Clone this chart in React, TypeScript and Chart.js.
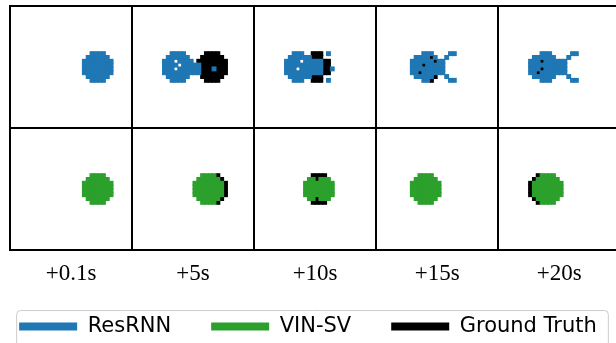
import React, { useEffect, useRef } from 'react';
import { Chart, registerables } from 'chart.js';

Chart.register(...registerables);

// ---------- data ----------
const TIME_LABELS = ['+0.1s', '+5s', '+10s', '+15s', '+20s'];
const SERIES_NAMES = ['ResRNN', 'VIN-SV', 'Ground Truth'];
const SERIES_COLORS = ['#1f77b4', '#2ca02c', '#000000'];
const FRAME_SIZE = 32; // each frame is a 32x32 pixel image
const X_VISIBLE_MAX = 158.9; // last frame is cropped on the right

type Run = [number, number, number]; // [row, firstCol, lastCol]

// ResRNN predictions (top row)
const RESRNN_0_1S: Run[] = [[12, 21, 24], [13, 20, 25], [14, 19, 26], [15, 19, 26], [16, 19, 26], [17, 19, 26], [18, 20, 25], [19, 21, 24]];
const RESRNN_5S: Run[] = [[12, 10, 13], [13, 9, 14], [14, 8, 10], [14, 12, 15], [15, 8, 11], [15, 13, 17], [16, 8, 10], [16, 12, 17], [16, 21, 21], [17, 8, 17], [18, 9, 14], [19, 10, 13]];
const RESRNN_10S: Run[] = [[12, 10, 12], [12, 19, 19], [13, 9, 14], [14, 8, 11], [14, 13, 17], [15, 8, 17], [16, 8, 10], [16, 12, 17], [16, 20, 20], [17, 8, 17], [18, 9, 14], [19, 10, 12], [19, 19, 19]];
const RESRNN_15S: Run[] = [[12, 12, 14], [12, 19, 20], [13, 10, 13], [13, 15, 15], [13, 18, 18], [14, 9, 14], [14, 16, 17], [15, 9, 11], [15, 13, 17], [16, 9, 17], [17, 9, 10], [17, 12, 17], [18, 10, 14], [18, 18, 18], [19, 12, 13], [19, 19, 20]];
const RESRNN_20S: Run[] = [[12, 11, 13], [12, 19, 20], [13, 9, 14], [13, 18, 18], [14, 8, 10], [14, 12, 17], [15, 8, 17], [16, 8, 10], [16, 12, 17], [17, 8, 9], [17, 11, 17], [18, 9, 14], [18, 18, 18], [19, 11, 13], [19, 19, 20]];

// Ground truth visible next to the ResRNN predictions (top row)
const TRUTH_TOP_0_1S: Run[] = [];
const TRUTH_TOP_5S: Run[] = [[12, 19, 22], [13, 18, 23], [14, 17, 24], [15, 18, 24], [16, 18, 20], [16, 22, 24], [17, 18, 24], [18, 18, 23], [19, 19, 22]];
const TRUTH_TOP_10S: Run[] = [[12, 15, 17], [13, 15, 17], [14, 18, 19], [15, 18, 19], [16, 18, 19], [17, 18, 19], [18, 15, 17], [19, 15, 17]];
const TRUTH_TOP_15S: Run[] = [[13, 14, 14], [14, 15, 15], [15, 12, 12], [17, 11, 11], [18, 15, 15], [19, 14, 14]];
const TRUTH_TOP_20S: Run[] = [[14, 11, 11], [16, 11, 11], [17, 10, 10]];

// VIN-SV predictions (bottom row)
const VINSV_0_1S: Run[] = [[12, 21, 24], [13, 20, 25], [14, 19, 26], [15, 19, 26], [16, 19, 26], [17, 19, 26], [18, 20, 25], [19, 21, 24]];
const VINSV_5S: Run[] = [[12, 18, 21], [13, 17, 22], [14, 16, 23], [15, 16, 23], [16, 16, 23], [17, 16, 23], [18, 17, 22], [19, 18, 21]];
const VINSV_10S: Run[] = [[13, 14, 15], [13, 17, 19], [14, 13, 20], [15, 13, 20], [16, 13, 20], [17, 13, 20], [18, 14, 15], [18, 17, 19]];
const VINSV_15S: Run[] = [[12, 11, 14], [13, 10, 15], [14, 9, 16], [15, 9, 16], [16, 9, 16], [17, 9, 16], [18, 10, 15], [19, 11, 14]];
const VINSV_20S: Run[] = [[12, 11, 14], [13, 10, 15], [14, 9, 16], [15, 9, 16], [16, 9, 16], [17, 9, 16], [18, 10, 15], [19, 11, 14]];

// Ground truth visible next to the VIN-SV predictions (bottom row)
const TRUTH_BOTTOM_0_1S: Run[] = [];
const TRUTH_BOTTOM_5S: Run[] = [[12, 22, 22], [13, 23, 23], [14, 24, 24], [15, 24, 24], [16, 24, 24], [17, 24, 24], [18, 23, 23], [19, 22, 22]];
const TRUTH_BOTTOM_10S: Run[] = [[12, 15, 18], [13, 16, 16], [18, 16, 16], [19, 15, 18]];
const TRUTH_BOTTOM_15S: Run[] = [];
const TRUTH_BOTTOM_20S: Run[] = [[12, 10, 10], [13, 9, 9], [14, 8, 8], [15, 8, 8], [16, 8, 8], [17, 8, 8], [18, 9, 9], [19, 10, 10]];

const RESRNN_FRAMES = [RESRNN_0_1S, RESRNN_5S, RESRNN_10S, RESRNN_15S, RESRNN_20S];
const TRUTH_TOP_FRAMES = [TRUTH_TOP_0_1S, TRUTH_TOP_5S, TRUTH_TOP_10S, TRUTH_TOP_15S, TRUTH_TOP_20S];
const VINSV_FRAMES = [VINSV_0_1S, VINSV_5S, VINSV_10S, VINSV_15S, VINSV_20S];
const TRUTH_BOTTOM_FRAMES = [TRUTH_BOTTOM_0_1S, TRUTH_BOTTOM_5S, TRUTH_BOTTOM_10S, TRUTH_BOTTOM_15S, TRUTH_BOTTOM_20S];

// ---------- helpers ----------
function runsToPoints(runs: Run[], panelCol: number, panelRow: number) {
  const pts: { x: number; y: number }[] = [];
  for (const [row, c0, c1] of runs) {
    for (let c = c0; c <= c1; c++) {
      pts.push({ x: panelCol * FRAME_SIZE + c + 0.5, y: panelRow * FRAME_SIZE + row + 0.5 });
    }
  }
  return pts;
}

// square side = one image pixel (+ a little overlap so neighbours leave no seams)
const pixelRadius = (ctx: any) => {
  const s = ctx.chart.scales.x;
  if (!s) return 2;
  const unit = Math.abs(s.getPixelForValue(1) - s.getPixelForValue(0));
  return (unit + 1.1) / Math.SQRT2;
};

// let the x tick labels draw below a short axis box (legend sits close underneath)
const labelRoom = {
  id: 'labelRoom',
  afterLayout(chart: any) {
    const s = chart.scales.x;
    if (s) s.bottom = s.top + 44;
  },
};

const legendFrame = {
  id: 'legendFrame',
  afterDraw(chart: any) {
    const lg = chart.legend;
    const hb = lg && lg.legendHitBoxes;
    if (!hb || !hb.length) return;
    const last = hb[hb.length - 1];
    const left = hb[0].left - 3;
    const right = last.left + last.width + 11;
    const top = hb[0].top - 6;
    const bottom = chart.height + 8;
    const ctx = chart.ctx;
    ctx.save();
    ctx.strokeStyle = '#cccccc';
    ctx.lineWidth = 1;
    ctx.beginPath();
    if (ctx.roundRect) ctx.roundRect(left + 0.5, top + 0.5, right - left, bottom - top, 4);
    else ctx.rect(left + 0.5, top + 0.5, right - left, bottom - top);
    ctx.stroke();
    ctx.restore();
  },
};

export default function App() {
  const canvasRef = useRef<HTMLCanvasElement | null>(null);

  useEffect(() => {
    if (!canvasRef.current) return;
    const seriesData = [
      RESRNN_FRAMES.flatMap((r, i) => runsToPoints(r, i, 0)),
      VINSV_FRAMES.flatMap((r, i) => runsToPoints(r, i, 1)),
      [
        ...TRUTH_TOP_FRAMES.flatMap((r, i) => runsToPoints(r, i, 0)),
        ...TRUTH_BOTTOM_FRAMES.flatMap((r, i) => runsToPoints(r, i, 1)),
      ],
    ];
    const chart = new Chart(canvasRef.current, {
      type: 'scatter',
      data: {
        datasets: SERIES_NAMES.map((name, i) => ({
          label: name,
          data: seriesData[i],
          backgroundColor: SERIES_COLORS[i],
          borderColor: SERIES_COLORS[i],
          borderWidth: 0,
          pointStyle: 'rect',
          pointRadius: pixelRadius,
          pointBorderWidth: 0,
          pointHoverRadius: pixelRadius,
        })),
      },
      options: {
        animation: false,
        responsive: false,
        devicePixelRatio: 1,
        events: [],
        layout: { padding: { left: -26, top: 6, right: -26, bottom: -4 } },
        scales: {
          x: {
            type: 'linear',
            min: 0,
            max: X_VISIBLE_MAX,
            afterBuildTicks: (s: any) => {
              const t: { value: number }[] = [];
              TIME_LABELS.forEach((_, i) => {
                t.push({ value: i * FRAME_SIZE });
                t.push({ value: i * FRAME_SIZE + FRAME_SIZE / 2 });
              });
              s.ticks = t;
            },
            afterFit: (s: any) => {
              s.height = 26;
            },
            ticks: {
              autoSkip: false,
              maxRotation: 0,
              minRotation: 0,
              padding: 10,
              color: '#000',
              font: { family: 'Liberation Serif', size: 23 },
              callback: (value: any) => {
                const v = Number(value);
                if (v % FRAME_SIZE === FRAME_SIZE / 2) return TIME_LABELS[(v - FRAME_SIZE / 2) / FRAME_SIZE];
                return '';
              },
            },
            grid: {
              drawTicks: false,
              lineWidth: 2,
              color: (c: any) => (c.tick && c.tick.value % FRAME_SIZE === 0 ? '#000' : 'rgba(0,0,0,0)'),
            },
            border: { display: true, color: '#000', width: 2 },
          },
          y: {
            type: 'linear',
            reverse: true,
            min: 0,
            max: FRAME_SIZE * 2,
            afterBuildTicks: (s: any) => {
              s.ticks = [0, FRAME_SIZE, FRAME_SIZE * 2].map((v) => ({ value: v }));
            },
            afterFit: (s: any) => {
              s.width = 35;
            },
            ticks: { display: false },
            grid: { drawTicks: false, lineWidth: 2, color: '#000' },
            border: { display: true, color: '#000', width: 2 },
          },
        },
        plugins: {
          tooltip: { enabled: false },
          legend: {
            display: true,
            position: 'bottom',
            labels: {
              boxWidth: 58,
              boxHeight: 8,
              padding: 40,
              color: '#000',
              font: { family: 'DejaVu Sans', size: 21 },
            },
          },
        },
      },
      plugins: [labelRoom, legendFrame],
    } as any);
    return () => chart.destroy();
  }, []);

  return (
    <div style={{ position: 'fixed', left: 0, top: 0, width: 616, height: 343, background: '#fff' }}>
      <canvas ref={canvasRef} width={616} height={343} style={{ display: 'block', width: 616, height: 343 }} />
    </div>
  );
}
